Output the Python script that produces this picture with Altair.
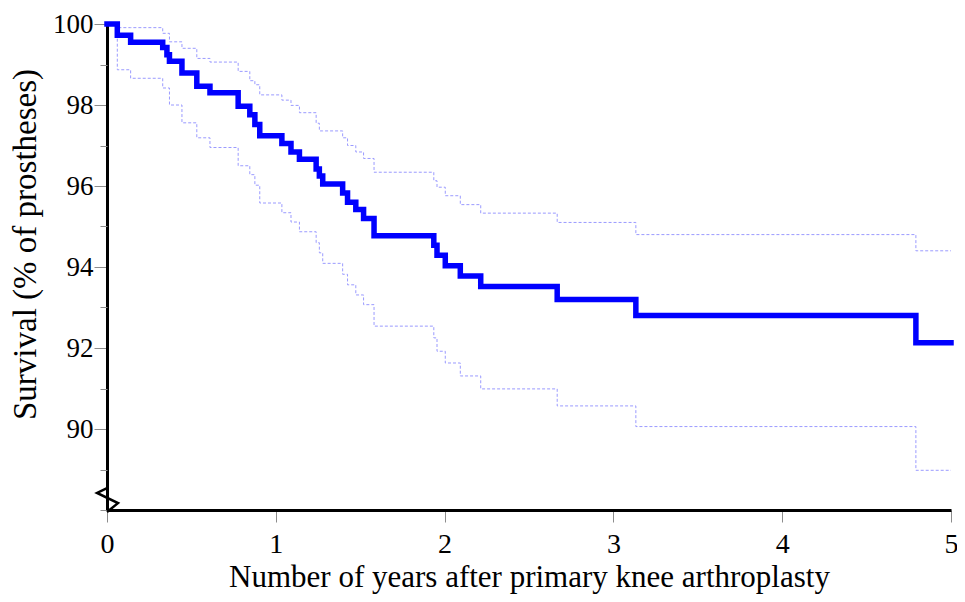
import altair as alt
import pandas as pd

# Kaplan-Meier survival estimate with 95% confidence band
years = [0, 0.061, 0.14, 0.33, 0.355, 0.37, 0.444, 0.532, 0.61, 0.777, 0.846,
         0.876, 0.905, 1.036, 1.09, 1.14, 1.239, 1.258, 1.278, 1.396, 1.425,
         1.474, 1.52, 1.582, 1.936, 1.955, 2.004, 2.093, 2.214, 2.667, 3.133,
         4.792, 5.0]
survival = [100, 99.72, 99.55, 99.42, 99.24, 99.08, 98.79, 98.46, 98.30, 97.97,
            97.76, 97.52, 97.24, 97.05, 96.84, 96.66, 96.42, 96.25, 96.05, 95.83,
            95.60, 95.42, 95.20, 94.77, 94.54, 94.29, 94.03, 93.78, 93.52, 93.20,
            92.80, 92.13, 92.13]
upper = [100, 99.91, 99.91, 99.77, 99.77, 99.56, 99.40, 99.15, 99.06, 98.83,
         98.60, 98.50, 98.25, 98.12, 97.99, 97.81, 97.55, 97.36, 97.36, 97.19,
         97.00, 96.84, 96.68, 96.34, 96.13, 95.97, 95.76, 95.54, 95.33, 95.10,
         94.80, 94.40, 94.40]
lower = [100, 98.87, 98.66, 98.42, 98.42, 98.00, 97.56, 97.19, 96.95, 96.50,
         96.28, 96.02, 95.58, 95.34, 95.11, 94.87, 94.60, 94.35, 94.09, 93.82,
         93.56, 93.31, 93.07, 92.54, 92.25, 91.92, 91.63, 91.31, 90.99, 90.57,
         90.06, 88.98, 88.98]

x_ticks = [0, 1, 2, 3, 4, 5]
y_major = [90, 92, 94, 96, 98, 100]
y_minor = [88, 89, 91, 93, 95, 97, 99]

# axis-break zigzag drawn on the y axis near its bottom
break_x = [0, -0.059, 0.065, 0]
break_y = [88.54, 88.42, 88.17, 87.95]

df = pd.DataFrame({"year": years, "survival": survival, "upper": upper, "lower": lower})
brk_df = pd.DataFrame({"bx": break_x, "by": break_y, "i": list(range(len(break_x)))})

FONT = "Liberation Serif"
xs = alt.Scale(domain=[0, 5], nice=False, zero=False)
ys = alt.Scale(domain=[88, 100], nice=False, zero=False)

x_axis = alt.Axis(
    values=x_ticks, format="d", title="Number of years after primary knee arthroplasty",
    grid=False, domainColor="black", domainWidth=3, tickColor="#8c8c8c", tickWidth=1,
    tickSize=12, labelPadding=8, labelFont=FONT, labelFontSize=28, labelColor="black",
    labelFlush=False, titleFont=FONT, titleFontSize=31, titleFontWeight="normal",
    titleColor="black", titleBaseline="alphabetic", titleY=76,
)
y_axis = alt.Axis(
    values=y_major, format="d", orient="left", title="Survival (% of prostheses)",
    grid=False, domainColor="black", domainWidth=3, tickColor="#8c8c8c", tickWidth=1,
    tickSize=13, labelPadding=1, labelFont=FONT, labelFontSize=27, labelColor="black",
    labelFlush=False, titleFont=FONT, titleFontSize=33, titleFontWeight="normal",
    titleColor="black", titleBaseline="alphabetic", titleX=-72, titleY=220, titleAngle=-90,
)
y_minor_axis = alt.Axis(
    values=y_minor, orient="left", title=None, grid=False, labels=False, domain=False,
    tickColor="#8c8c8c", tickWidth=1, tickSize=7,
)

base = alt.Chart(df)

ci = base.transform_fold(["upper", "lower"], as_=["bound", "value"]).mark_line(
    interpolate="step-after", color="#9a9aff", strokeWidth=1, strokeDash=[3, 2], clip=False
).encode(
    x=alt.X("year:Q", scale=xs, axis=x_axis),
    y=alt.Y("value:Q", scale=ys, axis=y_axis),
    detail="bound:N",
)

main = base.mark_line(
    interpolate="step-after", color="#0000ff", strokeWidth=5.5, strokeJoin="miter",
    strokeCap="square", clip=False
).encode(
    x=alt.X("year:Q", scale=xs, axis=x_axis),
    y=alt.Y("survival:Q", scale=ys, axis=None),
)

brk = alt.Chart(brk_df).mark_line(color="black", strokeWidth=2.5, clip=False).encode(
    x=alt.X("bx:Q", scale=xs, axis=x_axis),
    y=alt.Y("by:Q", scale=ys, axis=y_minor_axis),
    order="i:O",
)

chart = alt.layer(ci, main, brk).resolve_axis(y="independent").properties(
    width=844, height=486,
    autosize=alt.AutoSizeParams(type="none"),
    padding={"left": 99, "top": 16, "right": 6, "bottom": 84},
    background="white",
).configure_view(stroke=None)

chart.save("out.html", embed_options={"renderer": "svg", "actions": False})
